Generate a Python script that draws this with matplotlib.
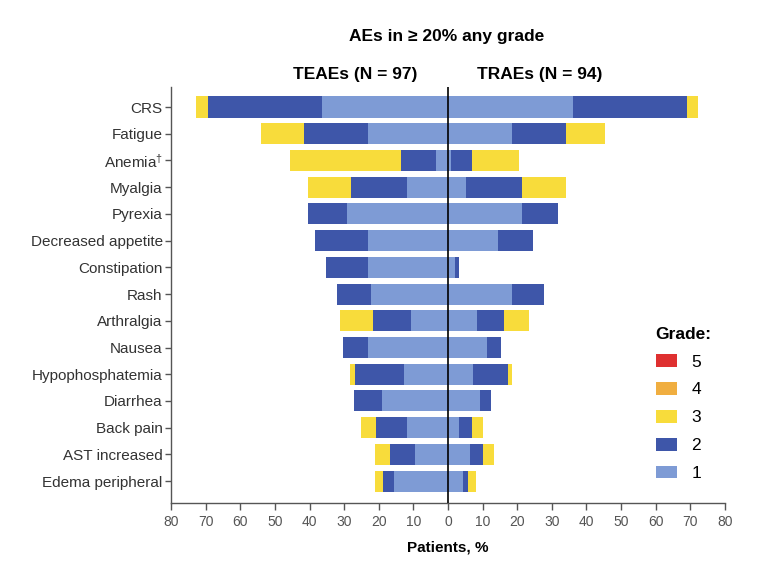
import matplotlib
matplotlib.use("Agg")
import matplotlib.pyplot as plt
from matplotlib.patches import Patch
import numpy as np

plt.rcParams['font.family'] = ['Liberation Sans', 'DejaVu Sans']
plt.rcParams['mathtext.fontset'] = 'custom'
plt.rcParams['mathtext.rm'] = 'Liberation Sans'
plt.rcParams['mathtext.it'] = 'Liberation Sans'
plt.rcParams['mathtext.bf'] = 'Liberation Sans:bold'

categories = ["CRS", "Fatigue", "Anemia$^{\\dagger}$", "Myalgia", "Pyrexia",
              "Decreased appetite", "Constipation", "Rash", "Arthralgia", "Nausea",
              "Hypophosphatemia", "Diarrhea", "Back pain", "AST increased",
              "Edema peripheral"]

# TEAEs (N = 97), % of patients by grade
teae_g1 = [36.5, 23.1, 3.5, 11.7, 29.2, 23.1, 23.1, 22.1, 10.6, 23.1, 12.6, 19.0, 11.7, 9.6, 15.7]
teae_g2 = [32.9, 18.4, 10.1, 16.4, 11.2, 15.3, 12.2, 10.0, 11.2, 7.1, 14.4, 8.1, 9.2, 7.1, 3.0]
teae_g3 = [3.3, 12.6, 32.1, 12.4, 0, 0, 0, 0, 9.5, 0, 1.2, 0, 4.2, 4.3, 2.3]
teae_g4 = [0] * 15
teae_g5 = [0] * 15

# TRAEs (N = 94), % of patients by grade
trae_g1 = [36.2, 18.5, 0.9, 5.2, 21.5, 14.5, 2.1, 18.5, 8.4, 11.3, 7.2, 9.3, 3.2, 6.4, 4.2]
trae_g2 = [32.8, 15.5, 6.1, 16.3, 10.3, 10.1, 1.0, 9.3, 7.8, 4.0, 10.0, 3.1, 3.8, 3.7, 1.7]
trae_g3 = [3.1, 11.3, 13.5, 12.5, 0, 0, 0, 0, 7.3, 0, 1.3, 0, 3.1, 3.3, 2.3]
trae_g4 = [0] * 15
trae_g5 = [0] * 15

grade_labels = ["1", "2", "3", "4", "5"]
grade_colors = ["#7e9bd5", "#3e56a9", "#f8dc3b", "#f0ae40", "#df3030"]

xticks = list(range(-80, 81, 10))

fig = plt.figure(figsize=(7.66, 5.70), dpi=100)
ax = fig.add_axes([171 / 766, (570 - 503) / 570, (725 - 171) / 766, (503 - 87) / 570])

n = len(categories)
y = np.arange(n)
bh = 0.79

teae = [teae_g1, teae_g2, teae_g3, teae_g4, teae_g5]
trae = [trae_g1, trae_g2, trae_g3, trae_g4, trae_g5]

left_cum = np.zeros(n)
right_cum = np.zeros(n)
for g in range(5):
    lv = np.array(teae[g], dtype=float)
    rv = np.array(trae[g], dtype=float)
    ax.barh(y, -lv, left=-left_cum, height=bh, color=grade_colors[g], edgecolor='none')
    ax.barh(y, rv, left=right_cum, height=bh, color=grade_colors[g], edgecolor='none')
    left_cum += lv
    right_cum += rv

ax.axvline(0, color='black', lw=1.2, zorder=5)

ax.set_xlim(-80, 80)
ax.set_ylim(n - 1 + 0.82, -0.75)
ax.set_yticks(y)
ax.set_yticklabels(categories, fontsize=11, color='#333333')
ax.set_xticks(xticks)
ax.set_xticklabels([str(abs(t)) for t in xticks], fontsize=10, color='#555555')
ax.tick_params(axis='y', length=4, width=1, color='#555555', pad=2)
ax.tick_params(axis='x', length=5, width=1, color='#555555', pad=4)
for s in ['top', 'right']:
    ax.spines[s].set_visible(False)
for s in ['left', 'bottom']:
    ax.spines[s].set_color('#555555')
    ax.spines[s].set_linewidth(1)

ax.set_xlabel("Patients, %", fontsize=11, fontweight='bold', labelpad=8)

fig.text(447 / 766, 1 - 37 / 570, "AEs in \u2265 20% any grade", ha='center', va='center',
         fontsize=12.5, fontweight='bold')
fig.text(355 / 766, 1 - 74 / 570, "TEAEs (N = 97)", ha='center', va='center',
         fontsize=12.5, fontweight='bold')
fig.text(540 / 766, 1 - 74 / 570, "TRAEs (N = 94)", ha='center', va='center',
         fontsize=12.5, fontweight='bold')

handles = [Patch(facecolor=grade_colors[g], edgecolor='none', label=grade_labels[g])
           for g in [4, 3, 2, 1, 0]]
leg = ax.legend(handles=handles, title="Grade:", loc='upper left',
                bbox_to_anchor=(640 / 766, 1 - 311 / 570), bbox_transform=fig.transFigure,
                frameon=False, fontsize=12.5, title_fontsize=12.5,
                handlelength=1.25, handleheight=0.75, labelspacing=0.72, handletextpad=0.8,
                alignment='left')
leg.get_title().set_fontweight('bold')

fig.savefig("out.png", dpi=100)
